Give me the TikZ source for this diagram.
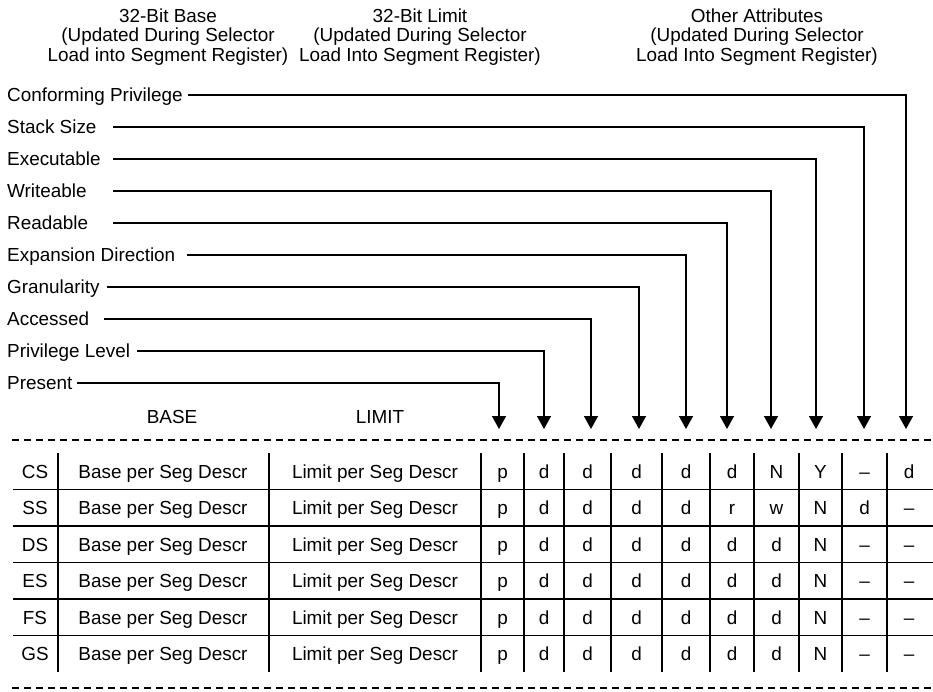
\documentclass[tikz,border=0pt]{standalone}
\usepackage{fontspec}
\setmainfont{Liberation Sans}
\usetikzlibrary{arrows.meta}

\begin{document}
\begin{tikzpicture}[x=1pt,y=-1pt,>={Triangle[width=14pt,length=13pt]},
    every node/.style={font=\fontsize{18.9}{19.5}\selectfont,inner sep=0pt},
    hdr/.style={align=center},
    lbl/.style={anchor=west,text height=13.5pt,text depth=0pt},
    cell/.style={text height=13.5pt,text depth=0pt},
    wire/.style={line width=1.5pt},
    rule/.style={line width=1.8pt},
    cut/.style={line width=2pt,dash pattern=on 7pt off 5pt}]
  \useasboundingbox (0,0) rectangle (933,691);

  % headers
  \node[hdr] (hbase) at (168,37) {32-Bit Base\\(Updated During Selector\\Load into Segment Register)};
  \node[hdr] (hlimit) at (420,37) {32-Bit Limit\\(Updated During Selector\\Load Into Segment Register)};
  \node[hdr] (hattr) at (757,37) {Other Attributes\\(Updated During Selector\\Load Into Segment Register)};

  % attribute labels
  \node[lbl] (conf) at (7,95) {Conforming Privilege};
  \node[lbl] (stack) at (7,127) {Stack Size};
  \node[lbl] (exec) at (7,159) {Executable};
  \node[lbl] (write) at (7,191) {Writeable};
  \node[lbl] (read) at (7,223) {Readable};
  \node[lbl] (expand) at (7,255) {Expansion Direction};
  \node[lbl] (gran) at (7,287) {Granularity};
  \node[lbl] (acc) at (7,319) {Accessed};
  \node[lbl] (priv) at (7,351) {Privilege Level};
  \node[lbl] (pres) at (7,383) {Present};

  \coordinate (lstart) at (113,0);
  \foreach \x [count=\i] in {499,544,591,639,686,727,771,816,864,906}
    \coordinate (t\i) at (\x,429);

  \draw[wire,->] ([xshift=5pt]conf.east) -| (t10);
  \draw[wire,->] (stack.east -| lstart) -| (t9);
  \draw[wire,->] (exec.east -| lstart) -| (t8);
  \draw[wire,->] (write.east -| lstart) -| (t7);
  \draw[wire,->] (read.east -| lstart) -| (t6);
  \draw[wire,->] ([xshift=12pt]expand.east) -| (t5);
  \draw[wire,->] ([xshift=7pt]gran.east) -| (t4);
  \draw[wire,->] ([xshift=15pt]acc.east) -| (t3);
  \draw[wire,->] ([xshift=7pt]priv.east) -| (t2);
  \draw[wire,->] ([xshift=4pt]pres.east) -| (t1);

  \node[cell] (base) at (172,417) {BASE};
  \node[cell] (limit) at (380,417) {LIMIT};

  % segment register table
  \draw[cut] (12,440) -- (933,440);
  \draw[cut] (12,688) -- (933,688);
  \foreach \y in {489.5,526,562.5,599,635.5}
    \draw[rule] (13,\y) -- (933,\y);
  \foreach \x in {58,269,481,524,564,611,662,710,754,799,842,887}
    \draw[rule] (\x,453) -- (\x,672);

  \foreach \seg/\vals [count=\i] in {CS/{p,d,d,d,d,d,N,Y,\textendash,d},
      SS/{p,d,d,d,d,r,w,N,d,\textendash},
      DS/{p,d,d,d,d,d,d,N,\textendash,\textendash},
      ES/{p,d,d,d,d,d,d,N,\textendash,\textendash},
      FS/{p,d,d,d,d,d,d,N,\textendash,\textendash},
      GS/{p,d,d,d,d,d,d,N,\textendash,\textendash}} {
    \node[cell] (seg\i) at (35,{434.75+36.5*\i}) {\seg};
    \node[cell] (b\i) at (163,{434.75+36.5*\i}) {Base per Seg Descr};
    \node[cell] (l\i) at (375,{434.75+36.5*\i}) {Limit per Seg Descr};
    \foreach \v [count=\j] in \vals {
      \pgfmathsetmacro\cx{{502.5,544,587.5,636.5,686,732,776.5,820.5,864.5,909}[\j-1]}
      \node[cell] (c\i-\j) at (\cx,{434.75+36.5*\i}) {\v};
    }
  }
\end{tikzpicture}
\end{document}
